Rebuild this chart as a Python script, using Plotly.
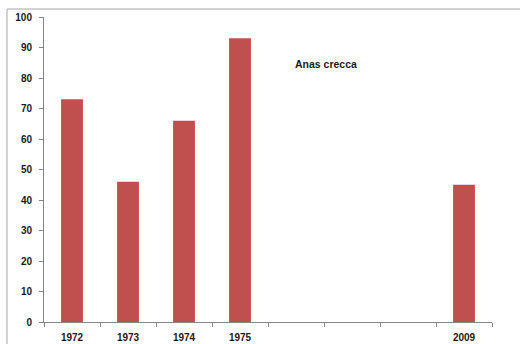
import plotly.graph_objects as go

# Census slots: four early years, three empty gaps, then 2009
categories = ["1972", "1973", "1974", "1975", " ", "  ", "   ", "2009"]
counts = [73, 46, 66, 93, None, None, None, 45]
y_ticks = list(range(0, 101, 10))

bar_color = "#C0504D"
axis_color = "#868686"
label_font = dict(family="Liberation Sans, Arial, sans-serif", size=10, color="#1a1a1a", weight="bold")

W, H = 520, 344
ml, mr, mt, mb = 44, 28, 17, 22
pw, ph = W - ml - mr, H - mt - mb

fig = go.Figure(
    go.Bar(
        x=categories,
        y=counts,
        marker=dict(color=bar_color, line=dict(width=0)),
        width=0.39,
    )
)

# chart frame: left and top edges, running off the right/bottom of the page
frame_left = (7 - ml) / pw
frame_top = (H - mb - 9) / ph
frame_style = dict(color="#a6a6a6", width=1)
fig.add_shape(type="line", xref="paper", yref="paper",
              x0=frame_left, x1=frame_left, y0=frame_top, y1=-0.2, line=frame_style)
fig.add_shape(type="line", xref="paper", yref="paper",
              x0=frame_left, x1=1.2, y0=frame_top, y1=frame_top, line=frame_style)

fig.add_annotation(
    text="Anas crecca",
    xref="paper", yref="paper",
    x=(325.5 - ml) / pw, y=(H - mb - 64) / ph,
    xanchor="center", yanchor="middle",
    showarrow=False,
    font=dict(family="Liberation Sans, Arial, sans-serif", size=10.5, color="#1a1a1a", weight="bold"),
)

fig.update_xaxes(
    type="category",
    categoryorder="array",
    categoryarray=categories,
    tickson="boundaries",
    ticks="outside",
    ticklen=4,
    tickcolor=axis_color,
    showline=True,
    linecolor=axis_color,
    linewidth=1,
    showgrid=False,
    tickfont=label_font,
    ticklabelstandoff=6,
    automargin=False,
    range=[-0.5, len(categories) - 0.5],
)
fig.update_yaxes(
    range=[0, 100],
    tickvals=y_ticks,
    ticks="outside",
    ticklen=4,
    tickcolor=axis_color,
    showline=True,
    linecolor=axis_color,
    linewidth=1,
    showgrid=False,
    zeroline=False,
    tickfont=label_font,
    ticklabelstandoff=5,
    automargin=False,
)

fig.update_layout(
    width=W,
    height=H,
    margin=dict(l=ml, r=mr, t=mt, b=mb),
    paper_bgcolor="white",
    plot_bgcolor="white",
    showlegend=False,
    bargap=0.61,
)

fig.write_html("out.html")
